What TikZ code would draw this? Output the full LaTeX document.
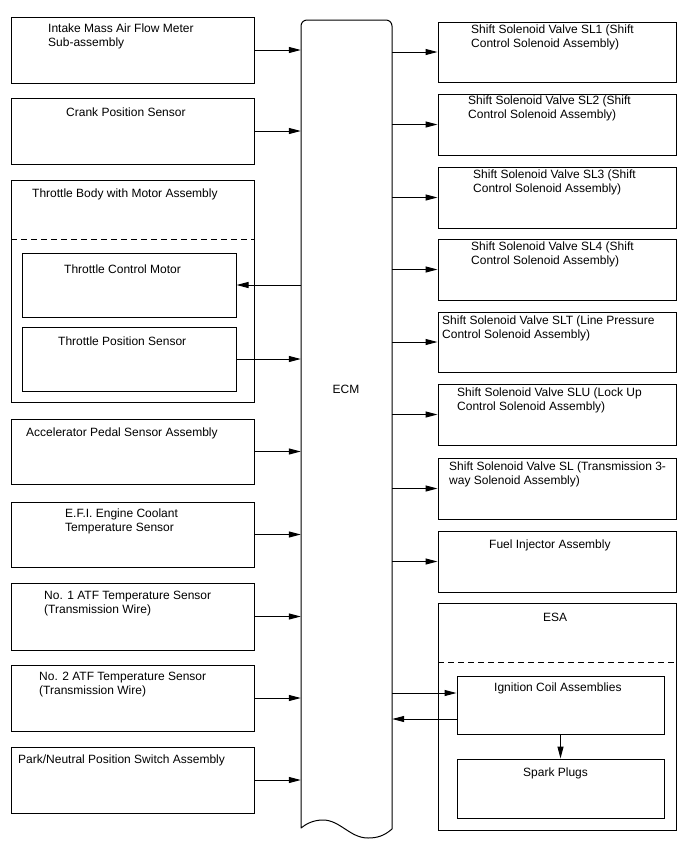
\documentclass[tikz,border=0pt]{standalone}
\usepackage{fontspec}
\setmainfont{Liberation Sans}
\usetikzlibrary{arrows.meta,fit,calc}
\begin{document}
\begin{tikzpicture}[x=1pt,y=-1pt,
  box/.style={draw=black, line width=1pt, inner sep=0pt, fill=none},
  lbl/.style={anchor=north west, inner sep=0pt, align=left, font=\fontsize{12}{14}\selectfont},
  arr/.style={line width=1pt, -{Triangle[length=12pt,width=6pt]}},
  sep/.style={line width=1pt, dash pattern=on 6pt off 4pt}]
\path[use as bounding box, fill=white] (0,0) rectangle (688,852);

% ECM
\node[inner sep=0pt, fit={(301,20) (392,828)}] (ecm) {};
\draw[line width=1pt, line join=round] (301,828) -- (301,26) arc[start angle=180, end angle=270, radius=6] -- (386,20)
  arc[start angle=270, end angle=360, radius=6] -- (392,829)
  .. controls (384,836) and (377,838) .. (368,838)
  .. controls (350,838) and (340,820) .. (323,820)
  .. controls (313,820) and (306,824) .. (301,828) -- cycle;
\node[font=\fontsize{12}{14}\selectfont, inner sep=0pt] (ecmt) at (346,389) {ECM};

% left boxes
\node[box, fit={(11,17) (254,83)}] (maf) {};
\node[lbl] (tmaf) at (48,23.5) {Intake Mass Air Flow Meter\\Sub-assembly};
\node[box, fit={(11,98) (254,164)}] (crank) {};
\node[lbl] (tcrank) at (66,107.5) {Crank Position Sensor};
\node[box, fit={(11,180) (254,402)}] (tb) {};
\node[lbl] (ttb) at (32,188.5) {Throttle Body with Motor Assembly};
\coordinate (tbdl) at (11,239);
\coordinate (tbdr) at (254,239);
\draw[sep] (tbdl) -- (tbdr);
\node[box, fit={(22,253) (236,317)}] (tcm) {};
\node[lbl] (ttcm) at (64,264.5) {Throttle Control Motor};
\node[box, fit={(22,327) (236,391)}] (tps) {};
\node[lbl] (ttps) at (58,336.5) {Throttle Position Sensor};
\node[box, fit={(11,419) (254,484)}] (aps) {};
\node[lbl] (taps) at (26,427.5) {Accelerator Pedal Sensor Assembly};
\node[box, fit={(11,502) (254,567)}] (ect) {};
\node[lbl] (tect) at (65,508.5) {E.F.I. Engine Coolant\\Temperature Sensor};
\node[box, fit={(11,583) (254,650)}] (atfa) {};
\node[lbl] (tatfa) at (44,590.5) {No. 1 ATF Temperature Sensor\\(Transmission Wire)};
\node[box, fit={(11,665) (254,731)}] (atfb) {};
\node[lbl] (tatfb) at (39,671.5) {No. 2 ATF Temperature Sensor\\(Transmission Wire)};
\node[box, fit={(11,747) (254,813)}] (pn) {};
\node[lbl] (tpn) at (18,754.5) {Park/Neutral Position Switch Assembly};

% right boxes
\node[box, fit={(438,22) (676,82)}] (sla) {};
\node[lbl] (tsla) at (471,24.5) {Shift Solenoid Valve SL1 (Shift\\Control Solenoid Assembly)};
\node[box, fit={(438,94) (676,155)}] (slb) {};
\node[lbl] (tslb) at (468,95.5) {Shift Solenoid Valve SL2 (Shift\\Control Solenoid Assembly)};
\node[box, fit={(438,167) (676,228)}] (slc) {};
\node[lbl] (tslc) at (473,169.5) {Shift Solenoid Valve SL3 (Shift\\Control Solenoid Assembly)};
\node[box, fit={(438,239) (676,300)}] (sld) {};
\node[lbl] (tsld) at (471,241.5) {Shift Solenoid Valve SL4 (Shift\\Control Solenoid Assembly)};
\node[box, fit={(438,312) (676,372)}] (slt) {};
\node[lbl] (tslt) at (442,315.5) {Shift Solenoid Valve SLT (Line Pressure\\Control Solenoid Assembly)};
\node[box, fit={(438,384) (676,445)}] (slu) {};
\node[lbl] (tslu) at (457,387.5) {Shift Solenoid Valve SLU (Lock Up\\Control Solenoid Assembly)};
\node[box, fit={(438,458) (676,519)}] (sl) {};
\node[lbl] (tsl) at (449,461.5) {Shift Solenoid Valve SL (Transmission 3-\\way Solenoid Assembly)};
\node[box, fit={(438,531) (676,592)}] (fuel) {};
\node[lbl] (tfuel) at (489,539.5) {Fuel Injector Assembly};
\node[box, fit={(438,603) (676,830)}] (esa) {};
\node[lbl] (tesa) at (543,612.5) {ESA};
\coordinate (esadl) at (438,662);
\coordinate (esadr) at (676,662);
\draw[sep] (esadl) -- (esadr);
\node[box, fit={(457,676) (664,734)}] (ign) {};
\node[lbl] (tign) at (494,682.5) {Ignition Coil Assemblies};
\node[box, fit={(457,759) (664,818)}] (spark) {};
\node[lbl] (tspark) at (523,767.5) {Spark Plugs};

% connectors left
\foreach \n in {maf,crank,tps,aps,ect,atfa,atfb,pn}
  \draw[arr] (\n.east) -- (\n.east -| ecm.west);
\draw[arr] (tcm.east -| ecm.west) -- (tcm.east);

% connectors right
\foreach \n in {sla,slb,slc,sld,slt,slu,sl,fuel}
  \draw[arr] (\n.west -| ecm.east) -- (\n.west);
\coordinate (igin) at ($(ign.west)+(0,-12)$);
\coordinate (igout) at ($(ign.west)+(0,14)$);
\draw[arr] (igin -| ecm.east) -- (igin);
\draw[arr] (igout) -- (igout -| ecm.east);
\draw[arr] (ign.south) -- (spark.north);
\end{tikzpicture}
\end{document}
